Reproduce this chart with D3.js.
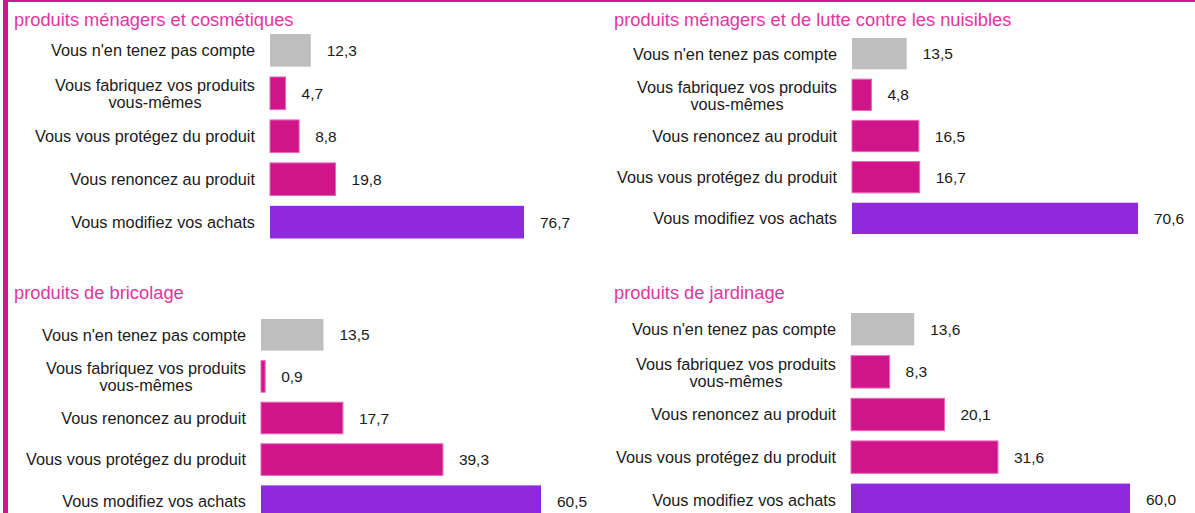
<!DOCTYPE html>
<html>
<head>
<meta charset="utf-8">
<script src="https://cdn.jsdelivr.net/npm/d3@7"></script>
<style>
  body { margin: 0; background: #fff; }
  svg { display: block; font-family: "Liberation Sans", Arial, Helvetica, sans-serif; }
</style>
</head>
<body>
<div id="chart"></div>
<script>
// data, one set of arrays per panel
var titles = [
  "produits ménagers et cosmétiques",
  "produits ménagers et de lutte contre les nuisibles",
  "produits de bricolage",
  "produits de jardinage"
];
var categories1 = ["Vous n'en tenez pas compte", "Vous fabriquez vos produits|vous-mêmes", "Vous vous protégez du produit", "Vous renoncez au produit", "Vous modifiez vos achats"];
var values1 = [12.3, 4.7, 8.8, 19.8, 76.7];
var categories2 = ["Vous n'en tenez pas compte", "Vous fabriquez vos produits|vous-mêmes", "Vous renoncez au produit", "Vous vous protégez du produit", "Vous modifiez vos achats"];
var values2 = [13.5, 4.8, 16.5, 16.7, 70.6];
var categories3 = ["Vous n'en tenez pas compte", "Vous fabriquez vos produits|vous-mêmes", "Vous renoncez au produit", "Vous vous protégez du produit", "Vous modifiez vos achats"];
var values3 = [13.5, 0.9, 17.7, 39.3, 60.5];
var categories4 = ["Vous n'en tenez pas compte", "Vous fabriquez vos produits|vous-mêmes", "Vous renoncez au produit", "Vous vous protégez du produit", "Vous modifiez vos achats"];
var values4 = [13.6, 8.3, 20.1, 31.6, 60.0];

var allCategories = [categories1, categories2, categories3, categories4];
var allValues = [values1, values2, values3, values4];

// layout of each panel (pixels)
var layout = [
  {tx: 14, ty: 26, labelRight: 255, barX: 270, barW: 254, y0: 34, y1: 238.5},
  {tx: 614, ty: 26, labelRight: 837, barX: 852, barW: 286, y0: 38, y1: 234},
  {tx: 14, ty: 299, labelRight: 246, barX: 261, barW: 280, y0: 319, y1: 517},
  {tx: 614, ty: 299, labelRight: 836, barX: 851, barW: 279, y0: 313, y1: 516}
];

var W = 1195, H = 513;
var frameColor = "#d4168c";
var titleColor = "#e0369e";

function barColor(cat) {
  if (cat.indexOf("n'en tenez") >= 0) return "#bebebe";
  if (cat.indexOf("modifiez") >= 0) return "#8e2ad9";
  return "#d0158a";
}
var fmt = function(v){ return d3.format(".1f")(v).replace(".", ","); };

var svg = d3.select("#chart").append("svg")
  .attr("width", W)
  .attr("height", H);

// frame
svg.append("rect").attr("x", 3).attr("y", 0).attr("width", W - 3).attr("height", 2).attr("fill", frameColor);
svg.append("rect").attr("x", 3).attr("y", 0).attr("width", 5).attr("height", H).attr("fill", frameColor);

layout.forEach(function(L, p){
  var cats = allCategories[p];
  var vals = allValues[p];
  var g = svg.append("g");

  g.append("text")
    .attr("x", L.tx)
    .attr("y", L.ty)
    .attr("fill", titleColor)
    .style("font-size", "18.3px")
    .text(titles[p]);

  var x = d3.scaleLinear().domain([0, d3.max(vals)]).range([0, L.barW]);
  var y = d3.scaleBand().domain(cats).range([L.y0, L.y1]).paddingInner(0.24).paddingOuter(0);

  var rows = g.selectAll(".row").data(cats).enter().append("g").attr("class", "row");

  rows.append("rect")
    .attr("x", L.barX)
    .attr("y", function(d){ return y(d); })
    .attr("width", function(d, i){ return x(vals[i]); })
    .attr("height", y.bandwidth())
    .attr("fill", function(d){ return barColor(d); })
    .attr("stroke", function(d){ return barColor(d) == "#d0158a" ? "#e46ab6" : "none"; })
    .attr("stroke-width", 1);

  rows.append("text")
    .attr("x", function(d, i){ return L.barX + x(vals[i]) + 16; })
    .attr("y", function(d){ return y(d) + y.bandwidth() / 2; })
    .attr("dy", "0.36em")
    .attr("fill", "#1a1a1a")
    .style("font-size", "15.5px")
    .text(function(d, i){ return fmt(vals[i]); });

  rows.each(function(d){
    var lines = d.split("|");
    var cy = y(d) + y.bandwidth() / 2;
    var t = d3.select(this).append("text")
      .attr("fill", "#1a1a1a")
      .style("font-size", "16.3px");
    if (lines.length == 1) {
      t.attr("x", L.labelRight).attr("y", cy).attr("dy", "0.36em")
        .attr("text-anchor", "end").text(d);
    } else {
      var first = t.append("tspan").text(lines[0]);
      var w = t.node().getComputedTextLength();
      var cx = L.labelRight - w / 2;
      t.attr("text-anchor", "middle");
      first.attr("x", cx).attr("y", cy - 8).attr("dy", "0.36em");
      t.append("tspan").attr("x", cx).attr("y", cy + 9).attr("dy", "0.36em").text(lines[1]);
    }
  });
});
</script>
</body>
</html>
